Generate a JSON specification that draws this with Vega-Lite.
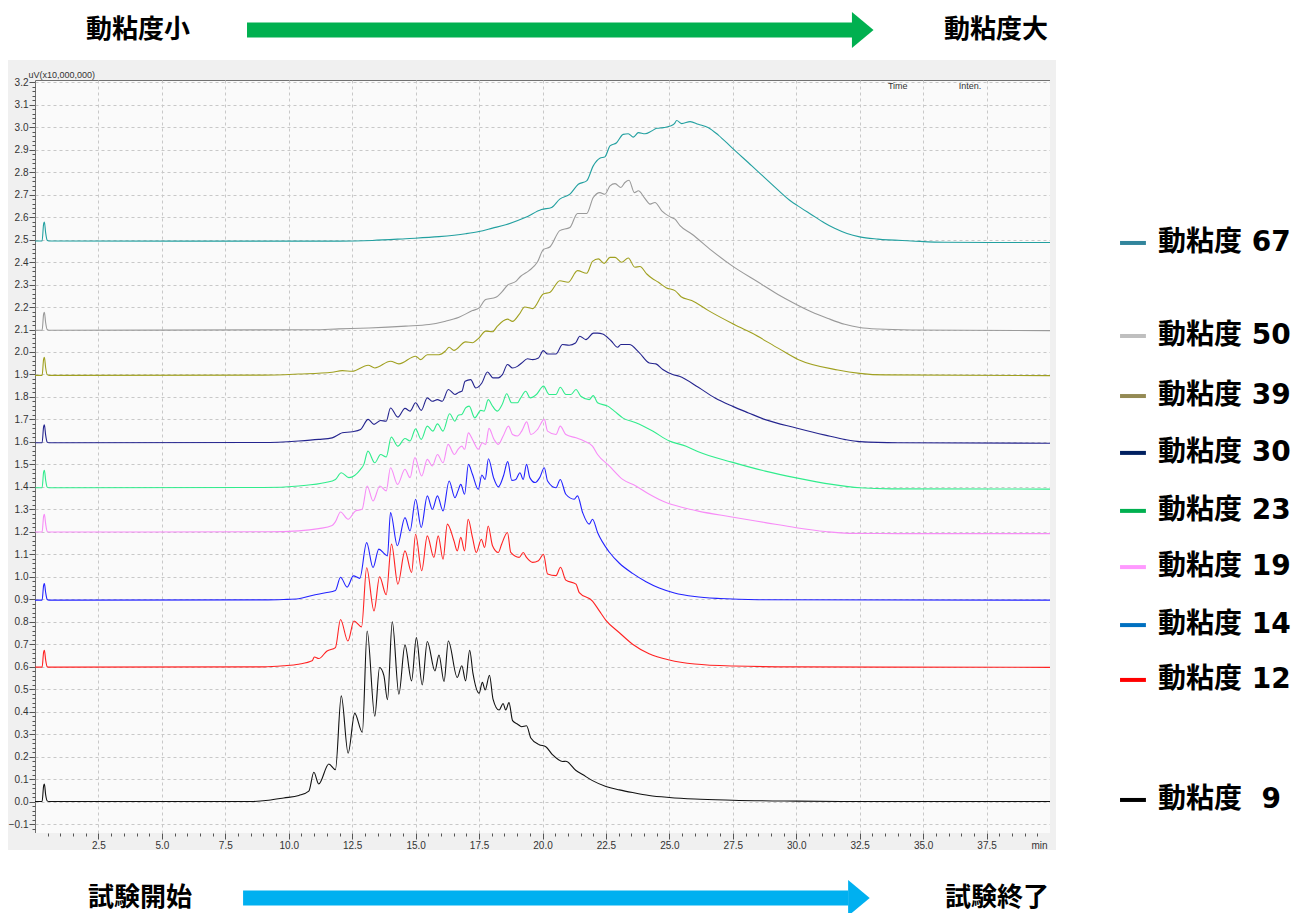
{
"$schema": "https://vega.github.io/schema/vega-lite/v6.json",
"width": 1015, "height": 753,
"autosize": "none",
"padding": {"left": 35, "top": 80, "right": 256, "bottom": 80},
"background": "white",
"config": {"view": {"stroke": "#707070", "strokeWidth": 1, "fill": "#fafafa"}},
"resolve": {"axis": {"x": "independent", "y": "independent"}},
"data": {"values": [{}]},
"datasets": {
"legend": [
{"s":"67","label":"動粘度 67","ly":2.485},
{"s":"50","label":"動粘度 50","ly":2.071},
{"s":"39","label":"動粘度 39","ly":1.804},
{"s":"30","label":"動粘度 30","ly":1.551},
{"s":"23","label":"動粘度 23","ly":1.293},
{"s":"19","label":"動粘度 19","ly":1.043},
{"s":"14","label":"動粘度 14","ly":0.785},
{"s":"12","label":"動粘度 12","ly":0.541},
{"s":"9","label":"動粘度 \u00a09","ly":0.007}
],
"traces": [
{"s":"67","t":0,"v":2.494},{"s":"67","t":0.28,"v":2.494},{"s":"67","t":0.34,"v":2.57},{"s":"67","t":0.37,"v":2.578},{"s":"67","t":0.42,"v":2.53},{"s":"67","t":0.48,"v":2.497},{"s":"67","t":0.55,"v":2.494},{"s":"67","t":11.97,"v":2.493},{"s":"67","t":13.29,"v":2.496},{"s":"67","t":14.61,"v":2.504},{"s":"67","t":15.92,"v":2.513},{"s":"67","t":16.97,"v":2.526},{"s":"67","t":17.5,"v":2.536},{"s":"67","t":18.03,"v":2.551},{"s":"67","t":18.55,"v":2.566},{"s":"67","t":19.34,"v":2.599},{"s":"67","t":19.96,"v":2.634},{"s":"67","t":20.36,"v":2.643},{"s":"67","t":20.68,"v":2.68},{"s":"67","t":21.08,"v":2.702},{"s":"67","t":21.41,"v":2.746},{"s":"67","t":21.74,"v":2.761},{"s":"67","t":22.0,"v":2.828},{"s":"67","t":22.26,"v":2.862},{"s":"67","t":22.46,"v":2.868},{"s":"67","t":22.66,"v":2.917},{"s":"67","t":22.92,"v":2.931},{"s":"67","t":23.18,"v":2.968},{"s":"67","t":23.38,"v":2.971},{"s":"67","t":23.58,"v":2.956},{"s":"67","t":23.78,"v":2.976},{"s":"67","t":24.04,"v":2.971},{"s":"67","t":24.3,"v":2.983},{"s":"67","t":24.5,"v":2.995},{"s":"67","t":24.76,"v":2.998},{"s":"67","t":25.03,"v":3.005},{"s":"67","t":25.2,"v":3.016},{"s":"67","t":25.29,"v":3.03},{"s":"67","t":25.49,"v":3.016},{"s":"67","t":25.82,"v":3.025},{"s":"67","t":26.14,"v":3.013},{"s":"67","t":26.54,"v":2.998},{"s":"67","t":26.93,"v":2.965},{"s":"67","t":27.46,"v":2.909},{"s":"67","t":28.25,"v":2.828},{"s":"67","t":29.04,"v":2.746},{"s":"67","t":29.74,"v":2.675},{"s":"67","t":30.2,"v":2.64},{"s":"67","t":30.59,"v":2.612},{"s":"67","t":31.1,"v":2.575},{"s":"67","t":31.51,"v":2.55},{"s":"67","t":32.0,"v":2.527},{"s":"67","t":32.5,"v":2.512},{"s":"67","t":33.22,"v":2.502},{"s":"67","t":34.54,"v":2.494},{"s":"67","t":35.86,"v":2.488},{"s":"67","t":40,"v":2.487},
{"s":"50","t":0,"v":2.097},{"s":"50","t":0.28,"v":2.097},{"s":"50","t":0.34,"v":2.168},{"s":"50","t":0.37,"v":2.177},{"s":"50","t":0.42,"v":2.13},{"s":"50","t":0.48,"v":2.1},{"s":"50","t":0.55,"v":2.097},{"s":"50","t":11.0,"v":2.099},{"s":"50","t":11.97,"v":2.103},{"s":"50","t":13.16,"v":2.107},{"s":"50","t":14.61,"v":2.115},{"s":"50","t":15.53,"v":2.122},{"s":"50","t":16.18,"v":2.137},{"s":"50","t":16.71,"v":2.155},{"s":"50","t":17.24,"v":2.184},{"s":"50","t":17.5,"v":2.196},{"s":"50","t":17.76,"v":2.233},{"s":"50","t":18.16,"v":2.243},{"s":"50","t":18.42,"v":2.27},{"s":"50","t":18.62,"v":2.297},{"s":"50","t":18.95,"v":2.314},{"s":"50","t":19.14,"v":2.337},{"s":"50","t":19.47,"v":2.362},{"s":"50","t":19.8,"v":2.4},{"s":"50","t":20.03,"v":2.455},{"s":"50","t":20.3,"v":2.468},{"s":"50","t":20.68,"v":2.54},{"s":"50","t":21.08,"v":2.554},{"s":"50","t":21.38,"v":2.616},{"s":"50","t":21.74,"v":2.616},{"s":"50","t":22.0,"v":2.687},{"s":"50","t":22.26,"v":2.709},{"s":"50","t":22.46,"v":2.702},{"s":"50","t":22.66,"v":2.739},{"s":"50","t":22.86,"v":2.749},{"s":"50","t":23.09,"v":2.732},{"s":"50","t":23.25,"v":2.754},{"s":"50","t":23.41,"v":2.764},{"s":"50","t":23.62,"v":2.709},{"s":"50","t":23.78,"v":2.717},{"s":"50","t":24.01,"v":2.687},{"s":"50","t":24.24,"v":2.658},{"s":"50","t":24.43,"v":2.665},{"s":"50","t":24.7,"v":2.628},{"s":"50","t":25.03,"v":2.601},{"s":"50","t":25.22,"v":2.591},{"s":"50","t":25.42,"v":2.562},{"s":"50","t":25.88,"v":2.525},{"s":"50","t":26.67,"v":2.451},{"s":"50","t":27.46,"v":2.384},{"s":"50","t":28.51,"v":2.31},{"s":"50","t":29.28,"v":2.256},{"s":"50","t":29.93,"v":2.216},{"s":"50","t":30.59,"v":2.179},{"s":"50","t":31.25,"v":2.149},{"s":"50","t":31.91,"v":2.123},{"s":"50","t":32.5,"v":2.109},{"s":"50","t":33.22,"v":2.102},{"s":"50","t":34.54,"v":2.098},{"s":"50","t":40,"v":2.095},
{"s":"39","t":0,"v":1.896},{"s":"39","t":0.28,"v":1.896},{"s":"39","t":0.34,"v":1.968},{"s":"39","t":0.37,"v":1.976},{"s":"39","t":0.42,"v":1.93},{"s":"39","t":0.48,"v":1.899},{"s":"39","t":0.55,"v":1.896},{"s":"39","t":9.0,"v":1.897},{"s":"39","t":10.39,"v":1.902},{"s":"39","t":11.71,"v":1.91},{"s":"39","t":12.11,"v":1.917},{"s":"39","t":12.5,"v":1.914},{"s":"39","t":13.13,"v":1.941},{"s":"39","t":13.39,"v":1.929},{"s":"39","t":14.01,"v":1.959},{"s":"39","t":14.34,"v":1.947},{"s":"39","t":15.0,"v":1.981},{"s":"39","t":15.2,"v":1.966},{"s":"39","t":15.46,"v":1.988},{"s":"39","t":15.92,"v":1.988},{"s":"39","t":16.18,"v":2.005},{"s":"39","t":16.32,"v":2.021},{"s":"39","t":16.51,"v":2.007},{"s":"39","t":16.97,"v":2.045},{"s":"39","t":17.24,"v":2.041},{"s":"39","t":17.5,"v":2.063},{"s":"39","t":17.76,"v":2.093},{"s":"39","t":18.03,"v":2.09},{"s":"39","t":18.22,"v":2.115},{"s":"39","t":18.62,"v":2.146},{"s":"39","t":18.82,"v":2.136},{"s":"39","t":19.08,"v":2.167},{"s":"39","t":19.3,"v":2.2},{"s":"39","t":19.61,"v":2.193},{"s":"39","t":20.03,"v":2.258},{"s":"39","t":20.3,"v":2.266},{"s":"39","t":20.68,"v":2.317},{"s":"39","t":21.01,"v":2.31},{"s":"39","t":21.38,"v":2.362},{"s":"39","t":21.74,"v":2.35},{"s":"39","t":21.97,"v":2.403},{"s":"39","t":22.2,"v":2.414},{"s":"39","t":22.43,"v":2.394},{"s":"39","t":22.66,"v":2.421},{"s":"39","t":22.86,"v":2.421},{"s":"39","t":23.12,"v":2.399},{"s":"39","t":23.38,"v":2.418},{"s":"39","t":23.64,"v":2.377},{"s":"39","t":23.84,"v":2.38},{"s":"39","t":24.11,"v":2.347},{"s":"39","t":24.3,"v":2.329},{"s":"39","t":24.57,"v":2.31},{"s":"39","t":24.89,"v":2.285},{"s":"39","t":25.22,"v":2.273},{"s":"39","t":25.46,"v":2.246},{"s":"39","t":25.88,"v":2.229},{"s":"39","t":26.54,"v":2.184},{"s":"39","t":27.46,"v":2.128},{"s":"39","t":28.25,"v":2.084},{"s":"39","t":29.3,"v":2.016},{"s":"39","t":30.07,"v":1.967},{"s":"39","t":31.64,"v":1.92},{"s":"39","t":32.5,"v":1.905},{"s":"39","t":33.5,"v":1.898},{"s":"39","t":40,"v":1.895},
{"s":"30","t":0,"v":1.596},{"s":"30","t":0.28,"v":1.596},{"s":"30","t":0.34,"v":1.668},{"s":"30","t":0.37,"v":1.676},{"s":"30","t":0.42,"v":1.63},{"s":"30","t":0.48,"v":1.599},{"s":"30","t":0.55,"v":1.596},{"s":"30","t":9.0,"v":1.597},{"s":"30","t":10.39,"v":1.604},{"s":"30","t":11.18,"v":1.611},{"s":"30","t":11.71,"v":1.618},{"s":"30","t":11.97,"v":1.633},{"s":"30","t":12.11,"v":1.641},{"s":"30","t":12.5,"v":1.645},{"s":"30","t":12.83,"v":1.655},{"s":"30","t":13.13,"v":1.7},{"s":"30","t":13.36,"v":1.678},{"s":"30","t":13.62,"v":1.695},{"s":"30","t":13.84,"v":1.692},{"s":"30","t":14.01,"v":1.751},{"s":"30","t":14.3,"v":1.71},{"s":"30","t":14.58,"v":1.749},{"s":"30","t":14.78,"v":1.737},{"s":"30","t":15.0,"v":1.774},{"s":"30","t":15.22,"v":1.74},{"s":"30","t":15.46,"v":1.796},{"s":"30","t":15.66,"v":1.781},{"s":"30","t":15.86,"v":1.788},{"s":"30","t":16.05,"v":1.781},{"s":"30","t":16.29,"v":1.833},{"s":"30","t":16.55,"v":1.811},{"s":"30","t":16.71,"v":1.821},{"s":"30","t":16.82,"v":1.825},{"s":"30","t":16.95,"v":1.87},{"s":"30","t":17.17,"v":1.877},{"s":"30","t":17.37,"v":1.84},{"s":"30","t":17.61,"v":1.862},{"s":"30","t":17.83,"v":1.911},{"s":"30","t":18.05,"v":1.885},{"s":"30","t":18.26,"v":1.885},{"s":"30","t":18.42,"v":1.899},{"s":"30","t":18.62,"v":1.944},{"s":"30","t":18.82,"v":1.929},{"s":"30","t":19.01,"v":1.936},{"s":"30","t":19.18,"v":1.951},{"s":"30","t":19.41,"v":1.97},{"s":"30","t":19.61,"v":1.966},{"s":"30","t":19.84,"v":1.973},{"s":"30","t":20.03,"v":2.006},{"s":"30","t":20.2,"v":1.991},{"s":"30","t":20.53,"v":1.991},{"s":"30","t":20.79,"v":2.033},{"s":"30","t":21.05,"v":2.03},{"s":"30","t":21.3,"v":2.04},{"s":"30","t":21.47,"v":2.07},{"s":"30","t":21.71,"v":2.055},{"s":"30","t":22.01,"v":2.084},{"s":"30","t":22.17,"v":2.084},{"s":"30","t":22.37,"v":2.08},{"s":"30","t":22.7,"v":2.05},{"s":"30","t":22.96,"v":2.021},{"s":"30","t":23.09,"v":2.033},{"s":"30","t":23.42,"v":2.033},{"s":"30","t":23.82,"v":1.996},{"s":"30","t":24.21,"v":1.951},{"s":"30","t":24.47,"v":1.947},{"s":"30","t":24.74,"v":1.922},{"s":"30","t":25.13,"v":1.9},{"s":"30","t":25.39,"v":1.892},{"s":"30","t":26.14,"v":1.843},{"s":"30","t":26.8,"v":1.795},{"s":"30","t":27.5,"v":1.758},{"s":"30","t":28.12,"v":1.729},{"s":"30","t":28.78,"v":1.699},{"s":"30","t":30.0,"v":1.662},{"s":"30","t":31.14,"v":1.63},{"s":"30","t":31.93,"v":1.61},{"s":"30","t":32.5,"v":1.601},{"s":"30","t":34.0,"v":1.596},{"s":"30","t":40,"v":1.594},
{"s":"23","t":0,"v":1.396},{"s":"23","t":0.28,"v":1.396},{"s":"23","t":0.34,"v":1.466},{"s":"23","t":0.37,"v":1.474},{"s":"23","t":0.42,"v":1.43},{"s":"23","t":0.48,"v":1.399},{"s":"23","t":0.55,"v":1.396},{"s":"23","t":9.0,"v":1.397},{"s":"23","t":10.39,"v":1.404},{"s":"23","t":11.45,"v":1.419},{"s":"23","t":11.84,"v":1.433},{"s":"23","t":12.07,"v":1.463},{"s":"23","t":12.37,"v":1.441},{"s":"23","t":12.83,"v":1.478},{"s":"23","t":12.96,"v":1.5},{"s":"23","t":13.12,"v":1.559},{"s":"23","t":13.39,"v":1.507},{"s":"23","t":13.62,"v":1.544},{"s":"23","t":13.84,"v":1.533},{"s":"23","t":14.04,"v":1.621},{"s":"23","t":14.3,"v":1.581},{"s":"23","t":14.58,"v":1.615},{"s":"23","t":14.78,"v":1.604},{"s":"23","t":15.0,"v":1.658},{"s":"23","t":15.22,"v":1.611},{"s":"23","t":15.46,"v":1.67},{"s":"23","t":15.68,"v":1.648},{"s":"23","t":15.86,"v":1.68},{"s":"23","t":16.08,"v":1.648},{"s":"23","t":16.34,"v":1.725},{"s":"23","t":16.55,"v":1.692},{"s":"23","t":16.68,"v":1.719},{"s":"23","t":16.82,"v":1.722},{"s":"23","t":16.97,"v":1.751},{"s":"23","t":17.11,"v":1.759},{"s":"23","t":17.33,"v":1.707},{"s":"23","t":17.57,"v":1.74},{"s":"23","t":17.7,"v":1.737},{"s":"23","t":17.86,"v":1.788},{"s":"23","t":18.03,"v":1.759},{"s":"23","t":18.22,"v":1.737},{"s":"23","t":18.42,"v":1.769},{"s":"23","t":18.59,"v":1.814},{"s":"23","t":18.78,"v":1.774},{"s":"23","t":19.01,"v":1.774},{"s":"23","t":19.14,"v":1.796},{"s":"23","t":19.34,"v":1.825},{"s":"23","t":19.51,"v":1.796},{"s":"23","t":19.76,"v":1.811},{"s":"23","t":20.04,"v":1.848},{"s":"23","t":20.26,"v":1.811},{"s":"23","t":20.53,"v":1.811},{"s":"23","t":20.7,"v":1.843},{"s":"23","t":20.92,"v":1.811},{"s":"23","t":21.12,"v":1.811},{"s":"23","t":21.32,"v":1.833},{"s":"23","t":21.51,"v":1.803},{"s":"23","t":21.84,"v":1.788},{"s":"23","t":22.0,"v":1.806},{"s":"23","t":22.17,"v":1.774},{"s":"23","t":22.57,"v":1.759},{"s":"23","t":22.83,"v":1.737},{"s":"23","t":23.16,"v":1.707},{"s":"23","t":23.68,"v":1.685},{"s":"23","t":24.34,"v":1.648},{"s":"23","t":25.0,"v":1.604},{"s":"23","t":25.66,"v":1.581},{"s":"23","t":26.14,"v":1.556},{"s":"23","t":27.46,"v":1.51},{"s":"23","t":28.78,"v":1.47},{"s":"23","t":30.0,"v":1.44},{"s":"23","t":31.41,"v":1.411},{"s":"23","t":32.5,"v":1.396},{"s":"23","t":33.76,"v":1.391},{"s":"23","t":40,"v":1.39},
{"s":"19","t":0,"v":1.199},{"s":"19","t":0.28,"v":1.199},{"s":"19","t":0.34,"v":1.27},{"s":"19","t":0.37,"v":1.278},{"s":"19","t":0.42,"v":1.235},{"s":"19","t":0.48,"v":1.202},{"s":"19","t":0.55,"v":1.199},{"s":"19","t":9.2,"v":1.2},{"s":"19","t":10.39,"v":1.204},{"s":"19","t":11.18,"v":1.214},{"s":"19","t":11.71,"v":1.228},{"s":"19","t":11.84,"v":1.245},{"s":"19","t":12.04,"v":1.288},{"s":"19","t":12.34,"v":1.256},{"s":"19","t":12.63,"v":1.293},{"s":"19","t":12.89,"v":1.3},{"s":"19","t":13.09,"v":1.404},{"s":"19","t":13.32,"v":1.337},{"s":"19","t":13.59,"v":1.404},{"s":"19","t":13.84,"v":1.382},{"s":"19","t":14.01,"v":1.485},{"s":"19","t":14.29,"v":1.411},{"s":"19","t":14.58,"v":1.478},{"s":"19","t":14.78,"v":1.441},{"s":"19","t":14.97,"v":1.53},{"s":"19","t":15.24,"v":1.448},{"s":"19","t":15.46,"v":1.522},{"s":"19","t":15.66,"v":1.493},{"s":"19","t":15.86,"v":1.544},{"s":"19","t":16.08,"v":1.507},{"s":"19","t":16.28,"v":1.589},{"s":"19","t":16.53,"v":1.544},{"s":"19","t":16.67,"v":1.567},{"s":"19","t":16.82,"v":1.581},{"s":"19","t":16.93,"v":1.567},{"s":"19","t":17.08,"v":1.64},{"s":"19","t":17.24,"v":1.611},{"s":"19","t":17.47,"v":1.567},{"s":"19","t":17.63,"v":1.596},{"s":"19","t":17.76,"v":1.589},{"s":"19","t":17.89,"v":1.66},{"s":"19","t":18.09,"v":1.611},{"s":"19","t":18.26,"v":1.589},{"s":"19","t":18.45,"v":1.626},{"s":"19","t":18.66,"v":1.67},{"s":"19","t":18.82,"v":1.633},{"s":"19","t":19.01,"v":1.626},{"s":"19","t":19.18,"v":1.648},{"s":"19","t":19.38,"v":1.689},{"s":"19","t":19.54,"v":1.633},{"s":"19","t":19.8,"v":1.655},{"s":"19","t":20.07,"v":1.7},{"s":"19","t":20.2,"v":1.648},{"s":"19","t":20.53,"v":1.633},{"s":"19","t":20.7,"v":1.67},{"s":"19","t":20.92,"v":1.633},{"s":"19","t":21.32,"v":1.618},{"s":"19","t":21.64,"v":1.604},{"s":"19","t":21.97,"v":1.581},{"s":"19","t":22.17,"v":1.544},{"s":"19","t":22.63,"v":1.493},{"s":"19","t":23.16,"v":1.433},{"s":"19","t":23.68,"v":1.404},{"s":"19","t":24.21,"v":1.367},{"s":"19","t":24.87,"v":1.33},{"s":"19","t":25.53,"v":1.308},{"s":"19","t":26.14,"v":1.292},{"s":"19","t":27.46,"v":1.266},{"s":"19","t":28.78,"v":1.241},{"s":"19","t":30.0,"v":1.218},{"s":"19","t":31.14,"v":1.201},{"s":"19","t":32.07,"v":1.193},{"s":"19","t":34.0,"v":1.192},{"s":"19","t":40,"v":1.192},
{"s":"14","t":0,"v":0.896},{"s":"14","t":0.28,"v":0.896},{"s":"14","t":0.34,"v":0.962},{"s":"14","t":0.37,"v":0.97},{"s":"14","t":0.42,"v":0.93},{"s":"14","t":0.48,"v":0.899},{"s":"14","t":0.55,"v":0.896},{"s":"14","t":9.0,"v":0.897},{"s":"14","t":9.8,"v":0.899},{"s":"14","t":10.39,"v":0.902},{"s":"14","t":10.92,"v":0.917},{"s":"14","t":11.45,"v":0.929},{"s":"14","t":11.84,"v":0.939},{"s":"14","t":12.04,"v":0.998},{"s":"14","t":12.3,"v":0.954},{"s":"14","t":12.55,"v":1.004},{"s":"14","t":12.8,"v":0.993},{"s":"14","t":13.07,"v":1.152},{"s":"14","t":13.32,"v":1.041},{"s":"14","t":13.55,"v":1.123},{"s":"14","t":13.79,"v":1.1},{"s":"14","t":13.89,"v":1.093},{"s":"14","t":14.01,"v":1.286},{"s":"14","t":14.28,"v":1.138},{"s":"14","t":14.58,"v":1.263},{"s":"14","t":14.78,"v":1.204},{"s":"14","t":15.0,"v":1.345},{"s":"14","t":15.22,"v":1.219},{"s":"14","t":15.46,"v":1.36},{"s":"14","t":15.66,"v":1.3},{"s":"14","t":15.86,"v":1.36},{"s":"14","t":16.08,"v":1.293},{"s":"14","t":16.32,"v":1.426},{"s":"14","t":16.55,"v":1.352},{"s":"14","t":16.67,"v":1.382},{"s":"14","t":16.78,"v":1.411},{"s":"14","t":16.93,"v":1.367},{"s":"14","t":17.08,"v":1.5},{"s":"14","t":17.24,"v":1.456},{"s":"14","t":17.47,"v":1.389},{"s":"14","t":17.61,"v":1.453},{"s":"14","t":17.74,"v":1.433},{"s":"14","t":17.87,"v":1.525},{"s":"14","t":18.07,"v":1.441},{"s":"14","t":18.26,"v":1.4},{"s":"14","t":18.46,"v":1.448},{"s":"14","t":18.63,"v":1.512},{"s":"14","t":18.79,"v":1.429},{"s":"14","t":18.95,"v":1.433},{"s":"14","t":19.11,"v":1.463},{"s":"14","t":19.24,"v":1.433},{"s":"14","t":19.37,"v":1.5},{"s":"14","t":19.5,"v":1.441},{"s":"14","t":19.71,"v":1.419},{"s":"14","t":19.89,"v":1.441},{"s":"14","t":20.07,"v":1.485},{"s":"14","t":20.2,"v":1.426},{"s":"14","t":20.53,"v":1.396},{"s":"14","t":20.7,"v":1.433},{"s":"14","t":20.92,"v":1.367},{"s":"14","t":21.25,"v":1.345},{"s":"14","t":21.38,"v":1.36},{"s":"14","t":21.58,"v":1.286},{"s":"14","t":21.84,"v":1.234},{"s":"14","t":21.97,"v":1.256},{"s":"14","t":22.17,"v":1.197},{"s":"14","t":22.63,"v":1.11},{"s":"14","t":23.03,"v":1.06},{"s":"14","t":23.55,"v":1.015},{"s":"14","t":24.08,"v":0.978},{"s":"14","t":24.6,"v":0.95},{"s":"14","t":25.2,"v":0.928},{"s":"14","t":26.0,"v":0.912},{"s":"14","t":27.0,"v":0.903},{"s":"14","t":28.5,"v":0.898},{"s":"14","t":40,"v":0.896},
{"s":"12","t":0,"v":0.598},{"s":"12","t":0.28,"v":0.598},{"s":"12","t":0.34,"v":0.665},{"s":"12","t":0.37,"v":0.673},{"s":"12","t":0.42,"v":0.63},{"s":"12","t":0.48,"v":0.6},{"s":"12","t":0.55,"v":0.598},{"s":"12","t":9.0,"v":0.599},{"s":"12","t":9.8,"v":0.604},{"s":"12","t":10.39,"v":0.611},{"s":"12","t":10.92,"v":0.626},{"s":"12","t":11.01,"v":0.643},{"s":"12","t":11.18,"v":0.636},{"s":"12","t":11.51,"v":0.67},{"s":"12","t":11.84,"v":0.685},{"s":"12","t":12.04,"v":0.81},{"s":"12","t":12.33,"v":0.714},{"s":"12","t":12.57,"v":0.803},{"s":"12","t":12.87,"v":0.777},{"s":"12","t":13.07,"v":1.04},{"s":"12","t":13.36,"v":0.848},{"s":"12","t":13.58,"v":1.0},{"s":"12","t":13.84,"v":0.92},{"s":"12","t":14.05,"v":1.145},{"s":"12","t":14.3,"v":0.967},{"s":"12","t":14.58,"v":1.115},{"s":"12","t":14.84,"v":1.019},{"s":"12","t":15.0,"v":1.189},{"s":"12","t":15.24,"v":1.027},{"s":"12","t":15.46,"v":1.182},{"s":"12","t":15.72,"v":1.086},{"s":"12","t":15.89,"v":1.182},{"s":"12","t":16.08,"v":1.078},{"s":"12","t":16.25,"v":1.234},{"s":"12","t":16.51,"v":1.16},{"s":"12","t":16.64,"v":1.115},{"s":"12","t":16.78,"v":1.175},{"s":"12","t":16.93,"v":1.115},{"s":"12","t":17.07,"v":1.256},{"s":"12","t":17.24,"v":1.175},{"s":"12","t":17.39,"v":1.108},{"s":"12","t":17.59,"v":1.167},{"s":"12","t":17.72,"v":1.13},{"s":"12","t":17.86,"v":1.226},{"s":"12","t":18.03,"v":1.138},{"s":"12","t":18.26,"v":1.108},{"s":"12","t":18.39,"v":1.145},{"s":"12","t":18.62,"v":1.197},{"s":"12","t":18.75,"v":1.108},{"s":"12","t":19.08,"v":1.086},{"s":"12","t":19.24,"v":1.108},{"s":"12","t":19.37,"v":1.086},{"s":"12","t":19.61,"v":1.064},{"s":"12","t":19.84,"v":1.071},{"s":"12","t":20.04,"v":1.1},{"s":"12","t":20.2,"v":1.012},{"s":"12","t":20.53,"v":1.005},{"s":"12","t":20.71,"v":1.042},{"s":"12","t":20.92,"v":0.985},{"s":"12","t":21.32,"v":0.967},{"s":"12","t":21.45,"v":0.929},{"s":"12","t":21.97,"v":0.892},{"s":"12","t":22.24,"v":0.848},{"s":"12","t":22.5,"v":0.806},{"s":"12","t":23.03,"v":0.751},{"s":"12","t":23.55,"v":0.7},{"s":"12","t":24.2,"v":0.658},{"s":"12","t":25.0,"v":0.63},{"s":"12","t":26.0,"v":0.612},{"s":"12","t":27.5,"v":0.603},{"s":"12","t":30.0,"v":0.599},{"s":"12","t":40,"v":0.597},
{"s":"9","t":0,"v":0.0},{"s":"9","t":0.28,"v":0.0},{"s":"9","t":0.34,"v":0.07},{"s":"9","t":0.37,"v":0.078},{"s":"9","t":0.42,"v":0.03},{"s":"9","t":0.48,"v":0.003},{"s":"9","t":0.55,"v":0.0},{"s":"9","t":8.5,"v":0.0},{"s":"9","t":9.2,"v":0.006},{"s":"9","t":9.8,"v":0.016},{"s":"9","t":10.4,"v":0.027},{"s":"9","t":10.79,"v":0.046},{"s":"9","t":10.99,"v":0.13},{"s":"9","t":11.18,"v":0.078},{"s":"9","t":11.58,"v":0.167},{"s":"9","t":11.84,"v":0.142},{"s":"9","t":12.07,"v":0.47},{"s":"9","t":12.34,"v":0.215},{"s":"9","t":12.6,"v":0.392},{"s":"9","t":12.9,"v":0.308},{"s":"9","t":13.09,"v":0.759},{"s":"9","t":13.39,"v":0.38},{"s":"9","t":13.58,"v":0.596},{"s":"9","t":13.75,"v":0.56},{"s":"9","t":13.89,"v":0.453},{"s":"9","t":14.08,"v":0.8},{"s":"9","t":14.34,"v":0.478},{"s":"9","t":14.58,"v":0.697},{"s":"9","t":14.84,"v":0.537},{"s":"9","t":15.03,"v":0.729},{"s":"9","t":15.26,"v":0.519},{"s":"9","t":15.46,"v":0.712},{"s":"9","t":15.76,"v":0.581},{"s":"9","t":15.92,"v":0.652},{"s":"9","t":16.12,"v":0.534},{"s":"9","t":16.29,"v":0.714},{"s":"9","t":16.64,"v":0.552},{"s":"9","t":16.82,"v":0.604},{"s":"9","t":16.97,"v":0.537},{"s":"9","t":17.13,"v":0.673},{"s":"9","t":17.26,"v":0.57},{"s":"9","t":17.5,"v":0.482},{"s":"9","t":17.63,"v":0.53},{"s":"9","t":17.74,"v":0.496},{"s":"9","t":17.91,"v":0.562},{"s":"9","t":18.05,"v":0.456},{"s":"9","t":18.29,"v":0.407},{"s":"9","t":18.45,"v":0.436},{"s":"9","t":18.55,"v":0.407},{"s":"9","t":18.68,"v":0.44},{"s":"9","t":18.82,"v":0.36},{"s":"9","t":19.01,"v":0.345},{"s":"9","t":19.18,"v":0.333},{"s":"9","t":19.37,"v":0.337},{"s":"9","t":19.54,"v":0.283},{"s":"9","t":19.87,"v":0.253},{"s":"9","t":20.13,"v":0.244},{"s":"9","t":20.39,"v":0.209},{"s":"9","t":20.79,"v":0.178},{"s":"9","t":20.92,"v":0.179},{"s":"9","t":21.32,"v":0.138},{"s":"9","t":21.58,"v":0.12},{"s":"9","t":21.97,"v":0.093},{"s":"9","t":22.5,"v":0.067},{"s":"9","t":23.03,"v":0.052},{"s":"9","t":23.55,"v":0.04},{"s":"9","t":24.2,"v":0.027},{"s":"9","t":25.0,"v":0.018},{"s":"9","t":26.0,"v":0.011},{"s":"9","t":27.5,"v":0.006},{"s":"9","t":30.0,"v":0.002},{"s":"9","t":32.0,"v":0.0},{"s":"9","t":40,"v":0.0}
]
},
"layer": [
{"mark": {"type": "rect", "color": "#f0f0f0", "clip": false},
 "encoding": {"x": {"datum": -1.064, "type": "quantitative", "axis": null}, "x2": {"datum": 0}, "y": {"datum": -0.2156, "type": "quantitative", "axis": null}, "y2": {"datum": 3.299}}},
{"mark": {"type": "rect", "color": "#f0f0f0", "clip": false},
 "encoding": {"x": {"datum": 40, "type": "quantitative", "axis": null}, "x2": {"datum": 40.236}, "y": {"datum": -0.2156, "type": "quantitative", "axis": null}, "y2": {"datum": 3.299}}},
{"mark": {"type": "rect", "color": "#f0f0f0", "clip": false},
 "encoding": {"x": {"datum": 0, "type": "quantitative", "axis": null}, "x2": {"datum": 40}, "y": {"datum": 3.21, "type": "quantitative", "axis": null}, "y2": {"datum": 3.299}}},
{"mark": {"type": "rect", "color": "#f0f0f0", "clip": false},
 "encoding": {"x": {"datum": 0, "type": "quantitative", "axis": null}, "x2": {"datum": 40}, "y": {"datum": -0.2156, "type": "quantitative", "axis": null}, "y2": {"datum": -0.14}}},
{"data": {"name": "traces"},
 "mark": {"type": "line", "strokeWidth": 1.1, "interpolate": "monotone", "clip": true},
 "encoding": {
  "x": {"field": "t", "type": "quantitative", "scale": {"domain": [0, 40], "nice": false, "zero": false},
        "axis": {"orient": "bottom", "values": [2.5,5,7.5,10,12.5,15,17.5,20,22.5,25,27.5,30,32.5,35,37.5], "grid": true, "gridColor": "#c8c8c8", "gridDash": [3,3], "labels": false, "ticks": false, "domain": false, "title": null, "zindex": 0}},
  "y": {"field": "v", "type": "quantitative", "scale": {"domain": [-0.14, 3.21], "nice": false, "zero": false},
        "axis": {"orient": "left", "values": [-0.1,0,0.1,0.2,0.3,0.4,0.5,0.6,0.7,0.8,0.9,1.0,1.1,1.2,1.3,1.4,1.5,1.6,1.7,1.8,1.9,2.0,2.1,2.2,2.3,2.4,2.5,2.6,2.7,2.8,2.9,3.0,3.1,3.2], "grid": true, "gridColor": "#c8c8c8", "gridDash": [3,3], "labels": false, "ticks": false, "domain": false, "title": null, "zindex": 0}},
  "detail": {"field": "s"},
  "stroke": {"field": "s", "type": "nominal", "legend": null,
    "scale": {"domain": ["67","50","39","30","23","19","14","12","9"], "range": ["#22a0a0","#9a9a9a","#a0a020","#24248e","#30ec8c","#f78cf7","#2222ff","#ff2222","#111111"]}}
 }},
{"data": {"name": "traces"},
 "mark": {"type": "point", "opacity": 0},
 "encoding": {
  "x": {"field": "t", "type": "quantitative",
        "axis": {"orient": "bottom", "values": {"expr": "sequence(0.5, 40, 0.5)"}, "grid": false, "domain": false, "zindex": 1,
                 "labelExpr": "datum.value % 2.5 == 0 ? format(datum.value, '.1f') : ''",
                 "tickSize": {"condition": {"test": "datum.value % 2.5 == 0", "value": 6}, "value": 3},
                 "tickColor": "#555", "labelColor": "#333", "labelFont": "Liberation Sans", "labelFontSize": 10, "labelPadding": 1, "labelFlush": false, "labelOverlap": false,
                 "title": "min", "titleFont": "Liberation Sans", "titleFontSize": 10, "titleFontWeight": "normal", "titleColor": "#333", "titleAnchor": "end", "titleAlign": "right", "titleBaseline": "alphabetic", "titleX": 1012, "titleY": 15}},
  "y": {"field": "v", "type": "quantitative",
        "axis": {"orient": "left", "values": {"expr": "sequence(-0.12, 3.2101, 0.02)"}, "grid": false, "domain": false, "zindex": 1,
                 "labelExpr": "abs(datum.value*10 - round(datum.value*10)) < 0.001 ? format(datum.value, '.1f') : ''",
                 "tickSize": {"condition": {"test": "abs(datum.value*10 - round(datum.value*10)) < 0.001", "value": 6}, "value": 3},
                 "tickColor": "#555", "labelColor": "#333", "labelFont": "Liberation Sans", "labelFontSize": 10, "labelPadding": 1, "labelFlush": false, "labelOverlap": false,
                 "title": "uV(x10,000,000)", "titleAngle": 0, "titleFont": "Liberation Sans", "titleFontSize": 9, "titleFontWeight": "normal", "titleColor": "#333", "titleAlign": "left", "titleBaseline": "alphabetic", "titleX": -7, "titleY": -3}}
 }},
{"mark": {"type": "text", "text": "Time", "font": "Liberation Sans", "fontSize": 9, "color": "#333", "clip": false},
 "encoding": {"x": {"datum": 34.0, "type": "quantitative", "axis": null}, "y": {"datum": 3.183, "type": "quantitative", "axis": null}}},
{"mark": {"type": "text", "text": "Inten.", "font": "Liberation Sans", "fontSize": 9, "color": "#333", "clip": false},
 "encoding": {"x": {"datum": 36.85, "type": "quantitative", "axis": null}, "y": {"datum": 3.183, "type": "quantitative", "axis": null}}},
{"mark": {"type": "rule", "color": "#00b050", "strokeWidth": 15, "strokeCap": "butt", "clip": false},
 "encoding": {"x": {"datum": 8.355, "type": "quantitative", "axis": null}, "x2": {"datum": 32.2}, "y": {"datum": 3.4324, "type": "quantitative", "axis": null}}},
{"mark": {"type": "point", "shape": "M -0.6 -1 L 0.6 0 L -0.6 1 Z", "size": 1296, "filled": true, "color": "#00b050", "opacity": 1, "clip": false},
 "encoding": {"x": {"datum": 32.62, "type": "quantitative", "axis": null}, "y": {"datum": 3.4324, "type": "quantitative", "axis": null}}},
{"mark": {"type": "rule", "color": "#00b0f0", "strokeWidth": 15, "strokeCap": "butt", "clip": false},
 "encoding": {"x": {"datum": 8.2, "type": "quantitative", "axis": null}, "x2": {"datum": 32.05}, "y": {"datum": -0.4291, "type": "quantitative", "axis": null}}},
{"mark": {"type": "point", "shape": "M -0.6 -1 L 0.6 0 L -0.6 1 Z", "size": 1296, "filled": true, "color": "#00b0f0", "opacity": 1, "clip": false},
 "encoding": {"x": {"datum": 32.47, "type": "quantitative", "axis": null}, "y": {"datum": -0.4291, "type": "quantitative", "axis": null}}},
{"mark": {"type": "text", "text": "動粘度小", "font": "Noto Sans CJK JP", "fontWeight": "bold", "fontSize": 26, "color": "#000", "align": "center", "baseline": "middle", "clip": false},
 "encoding": {"x": {"datum": 4.06, "type": "quantitative", "axis": null}, "y": {"datum": 3.4324, "type": "quantitative", "axis": null}}},
{"mark": {"type": "text", "text": "動粘度大", "font": "Noto Sans CJK JP", "fontWeight": "bold", "fontSize": 26, "color": "#000", "align": "center", "baseline": "middle", "clip": false},
 "encoding": {"x": {"datum": 37.87, "type": "quantitative", "axis": null}, "y": {"datum": 3.4324, "type": "quantitative", "axis": null}}},
{"mark": {"type": "text", "text": "試験開始", "font": "Noto Sans CJK JP", "fontWeight": "bold", "fontSize": 26, "color": "#000", "align": "center", "baseline": "middle", "clip": false},
 "encoding": {"x": {"datum": 4.14, "type": "quantitative", "axis": null}, "y": {"datum": -0.4291, "type": "quantitative", "axis": null}}},
{"mark": {"type": "text", "text": "試験終了", "font": "Noto Sans CJK JP", "fontWeight": "bold", "fontSize": 26, "color": "#000", "align": "center", "baseline": "middle", "clip": false},
 "encoding": {"x": {"datum": 37.91, "type": "quantitative", "axis": null}, "y": {"datum": -0.4291, "type": "quantitative", "axis": null}}},
{"data": {"name": "legend"},
 "mark": {"type": "rule", "strokeWidth": 4, "strokeCap": "butt", "clip": false},
 "encoding": {"x": {"datum": 42.76, "type": "quantitative", "axis": null}, "x2": {"datum": 43.78}, "y": {"field": "ly", "type": "quantitative", "axis": null},
  "color": {"field": "s", "type": "nominal", "legend": null,
    "scale": {"domain": ["67","50","39","30","23","19","14","12","9"], "range": ["#31859c","#bfbfbf","#948a54","#002060","#00b050","#ff99ff","#0070c0","#ff0000","#000000"]}}}},
{"data": {"name": "legend"},
 "mark": {"type": "text", "font": "DejaVu Sans, Noto Sans CJK JP", "fontWeight": "bold", "fontSize": 28, "color": "#000", "align": "left", "baseline": "middle", "clip": false},
 "encoding": {"x": {"datum": 44.26, "type": "quantitative", "axis": null}, "y": {"field": "ly", "type": "quantitative", "axis": null}, "text": {"field": "label"}}}
]
}
